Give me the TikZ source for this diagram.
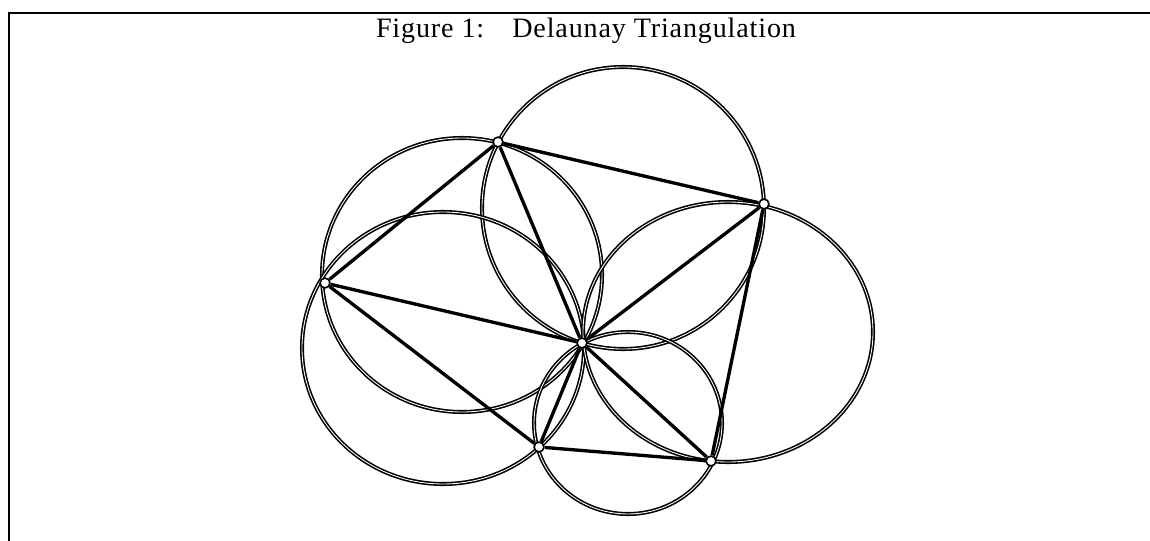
\documentclass[tikz,border=0pt]{standalone}
\usepackage{fontspec}
\setmainfont{Liberation Serif}
\newfontfamily\titlefont[LetterSpace=3]{Liberation Serif}
\usepackage{tikz}

\begin{document}
\begin{tikzpicture}[x=0.02cm, y=-0.02cm,
    vert/.style={draw, circle, fill=white, line width=0.9pt, minimum size=5.6pt, inner sep=0},
    circ/.style={line width=0.9pt, double=white, double distance=0.5pt},
    edge/.style={line width=1.9pt}]
    \useasboundingbox (0,0) rectangle (1150,541);

    % Frame and title
    \draw[line width=1.6pt] (9,541) -- (9,13) -- (1150,13);
    \node[anchor=base, inner sep=0, font=\titlefont\fontsize{16}{18}\selectfont] (title) at (586,37) {Figure 1:\quad Delaunay Triangulation};

    % Circumcircles of the five triangles
    \draw[circ] (623,208) ellipse [x radius=141, y radius=141];
    \draw[circ] (462,275) ellipse [x radius=140, y radius=137];
    \draw[circ] (443,348) ellipse [x radius=141, y radius=136];
    \draw[circ] (728,332) ellipse [x radius=145, y radius=130];
    \draw[circ] (628,423) ellipse [x radius=94, y radius=91];

    % Points
    \node[vert] (v1) at (498,142) {};
    \node[vert] (v2) at (764,204) {};
    \node[vert] (v3) at (325,283) {};
    \node[vert] (v4) at (582,343) {};
    \node[vert] (v5) at (539,447) {};
    \node[vert] (v6) at (711,461) {};

    % Edges
    \draw[edge] (v1) -- (v2);
    \draw[edge] (v1) -- (v3);
    \draw[edge] (v1) -- (v4);
    \draw[edge] (v2) -- (v4);
    \draw[edge] (v2) -- (v6);
    \draw[edge] (v3) -- (v4);
    \draw[edge] (v3) -- (v5);
    \draw[edge] (v4) -- (v5);
    \draw[edge] (v4) -- (v6);
    \draw[edge] (v5) -- (v6);
\end{tikzpicture}
\end{document}
